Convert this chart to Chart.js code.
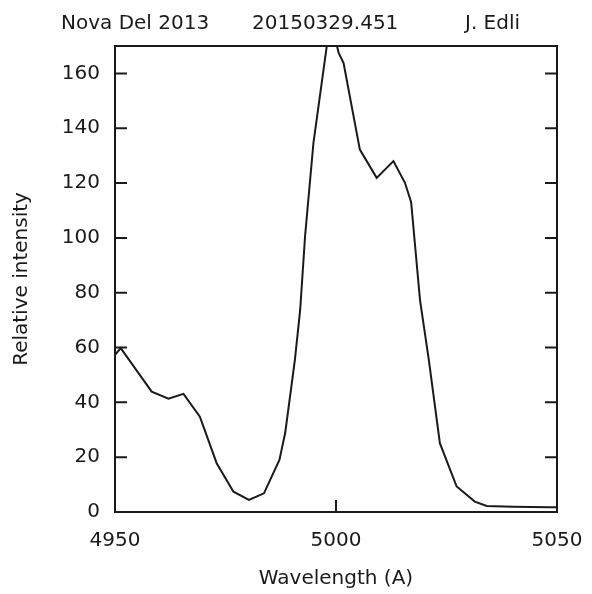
<!DOCTYPE html>
<html>
<head>
<meta charset="utf-8">
<script src="https://cdn.jsdelivr.net/npm/chart.js@4/dist/chart.umd.min.js"></script>
<style>
  body { margin: 0; background: #fff; }
  #wrap { width: 592px; height: 594px; }
</style>
</head>
<body>
<div id="wrap"><canvas id="spec" width="592" height="594"></canvas></div>
<script>
// spectrum
var wavelength = [4950, 4951.3, 4958.3, 4962.1, 4965.5, 4969.2, 4973.0, 4976.8, 4980.3, 4983.7,
  4987.2, 4988.5, 4990.7, 4991.9, 4993.0, 4994.9, 4998.6, 5000.0, 5000.6, 5001.7,
  5005.4, 5009.2, 5013.0, 5015.6, 5017.0, 5019.0, 5021.0, 5023.5, 5027.3, 5031.4,
  5034.1, 5040.0, 5048.4, 5050];
var intensity = [57.3, 59.8, 43.9, 41.3, 43.1, 34.8, 17.8, 7.4, 4.4, 6.8,
  19.0, 28.8, 55.5, 73.8, 100.6, 134.7, 178, 171.5, 167.5, 163.9,
  132.2, 121.9, 128.0, 120.1, 113.0, 77.4, 55.5, 25.1, 9.3, 3.8,
  2.2, 1.9, 1.7, 1.7];

var xTicks = [4950, 5000, 5050];
var yTicks = [0, 20, 40, 60, 80, 100, 120, 140, 160];
var header = ['Nova Del 2013', '20150329.451', 'J. Edli'];

var points = wavelength.map(function (w, i) { return {x: w, y: intensity[i]}; });

var font = {family: 'DejaVu Sans', size: 20};
var ink = '#1a1a1a';

var frame = {
  id: 'frame',
  afterDraw: function (chart) {
    var ctx = chart.ctx, a = chart.chartArea;
    var x = chart.scales.x, y = chart.scales.y;
    ctx.save();
    ctx.strokeStyle = ink;
    ctx.lineWidth = 2;
    ctx.strokeRect(a.left, a.top, a.right - a.left, a.bottom - a.top);
    ctx.beginPath();
    yTicks.forEach(function (v) {
      var py = y.getPixelForValue(v);
      ctx.moveTo(a.left, py); ctx.lineTo(a.left + 12, py);
      ctx.moveTo(a.right, py); ctx.lineTo(a.right - 12, py);
    });
    xTicks.forEach(function (v) {
      var px = x.getPixelForValue(v);
      ctx.moveTo(px, a.bottom); ctx.lineTo(px, a.bottom - 12);
    });
    ctx.stroke();

    ctx.fillStyle = ink;
    ctx.font = '20px "DejaVu Sans"';
    ctx.textBaseline = 'alphabetic';
    ctx.fillText(header[0], 61, 29);
    ctx.fillText(header[1], 252, 29);
    ctx.fillText(header[2], 465, 29);
    ctx.restore();
  }
};

var ctx = document.getElementById('spec');
var myChart = new Chart(ctx, {
  type: 'scatter',
  data: {
    datasets: [{
      data: points,
      showLine: true,
      borderColor: ink,
      borderWidth: 2,
      pointRadius: 0,
      tension: 0
    }]
  },
  options: {
    responsive: false,
    animation: false,
    layout: { padding: { top: 46, right: 35, left: 0, bottom: 0 } },
    plugins: { legend: { display: false }, tooltip: { enabled: false } },
    scales: {
      x: {
        type: 'linear',
        min: 4950,
        max: 5050,
        afterBuildTicks: function (s) { s.ticks = xTicks.map(function (v) { return {value: v}; }); },
        afterFit: function (s) { s.height = 82; s.paddingRight = 0; s.paddingLeft = 0; },
        grid: { display: false, drawTicks: false },
        border: { display: false },
        ticks: { color: ink, font: font, padding: 17, maxRotation: 0,
          callback: function (v) { return String(v); } },
        title: { display: true, text: 'Wavelength (A)', color: ink, font: font, padding: { top: 0, bottom: 3 } }
      },
      y: {
        type: 'linear',
        min: 0,
        max: 170,
        afterBuildTicks: function (s) { s.ticks = yTicks.map(function (v) { return {value: v}; }); },
        afterFit: function (s) { s.width = 115; },
        grid: { display: false, drawTicks: false },
        border: { display: false },
        ticks: { color: ink, font: font, padding: 15 },
        title: { display: true, text: 'Relative intensity', color: ink, font: font, padding: { top: 10, bottom: 0 } }
      }
    }
  },
  plugins: [frame]
});
</script>
</body>
</html>
